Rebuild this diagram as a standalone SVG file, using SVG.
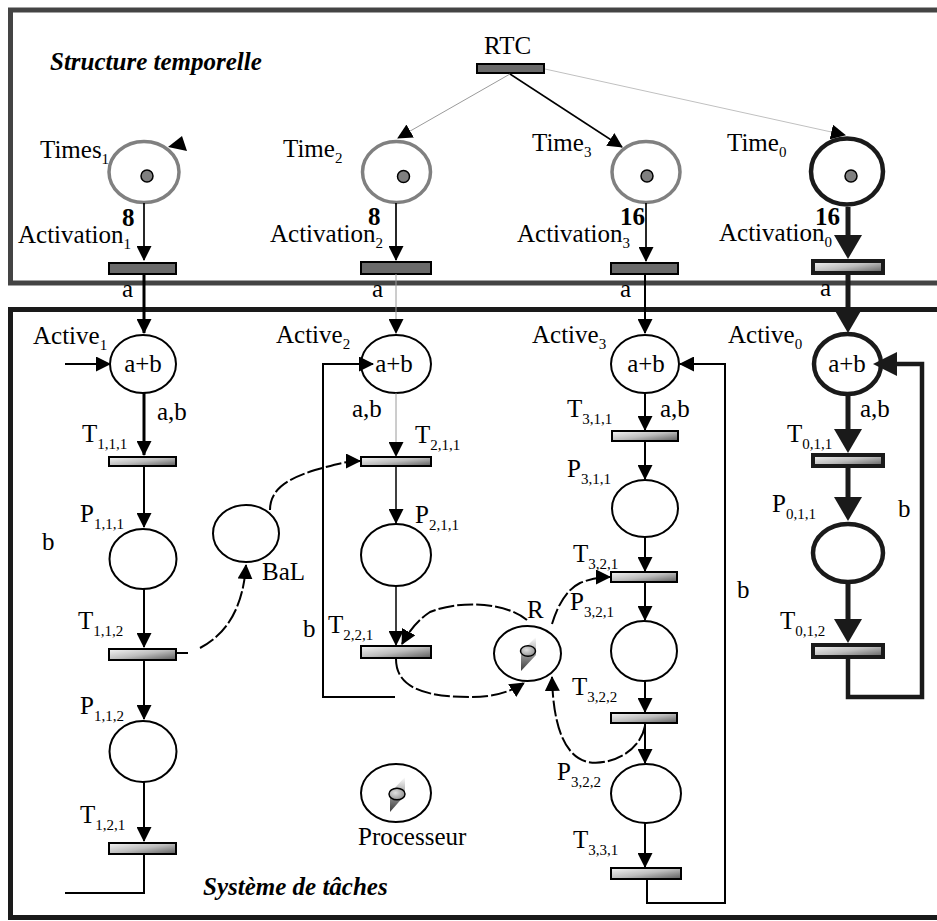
<svg xmlns="http://www.w3.org/2000/svg" width="937" height="921" viewBox="0 0 937 921" font-family="'Liberation Serif', 'DejaVu Serif', serif">
<style>
text{font-family:'Liberation Serif','DejaVu Serif',serif}
.lbl{font-size:25px;fill:#000}
.sub{font-size:15px}
.b{font-weight:bold}
.title{font-weight:bold;font-style:italic}
.ptop{fill:#fff;stroke:#808080;stroke-width:3.5}
.pl{fill:#fff;stroke:#000;stroke-width:2}
.plk{fill:#fff;stroke:#1a1a1a;stroke-width:4.5}
.tr{fill:url(#g);stroke:#000;stroke-width:2}
.trd{fill:#6a6a6a;stroke:#000;stroke-width:2}
.trk{fill:url(#g);stroke:#1a1a1a;stroke-width:4}
.tok{fill:#808080;stroke:#000;stroke-width:1.5}
.a{fill:none;stroke:#000;stroke-width:2;marker-end:url(#ar)}
.a3{fill:none;stroke:#000;stroke-width:3;marker-end:url(#ar)}
.ag{fill:none;stroke:#9a9a9a;stroke-width:1;marker-end:url(#ar)}
.ak{fill:none;stroke:#1a1a1a;stroke-width:5;marker-end:url(#arB)}
.d{fill:none;stroke:#000;stroke-width:2;stroke-dasharray:16 3;marker-end:url(#ar)}
.ln{fill:none;stroke:#000;stroke-width:2}
</style>
<defs>
<linearGradient id="g" x1="0" y1="0" x2="1" y2="1">
<stop offset="0" stop-color="#f6f6f6"/>
<stop offset="0.5" stop-color="#bdbdbd"/>
<stop offset="1" stop-color="#5a5a5a"/>
</linearGradient>
<linearGradient id="w" x1="0" y1="0" x2="0" y2="1">
<stop offset="0" stop-color="#ffffff"/>
<stop offset="1" stop-color="#3a3a3a"/>
</linearGradient>
<radialGradient id="tk" cx="0.4" cy="0.4" r="0.7">
<stop offset="0" stop-color="#e0e0e0"/>
<stop offset="1" stop-color="#8a8a8a"/>
</radialGradient>
<marker id="ar" markerUnits="userSpaceOnUse" markerWidth="15" markerHeight="15" viewBox="0 0 15 15" refX="14" refY="7.5" orient="auto">
<path d="M0,0 L15,7.5 L0,15 z" fill="#000"/>
</marker>
<marker id="arB" markerUnits="userSpaceOnUse" markerWidth="24" markerHeight="28" viewBox="0 0 24 28" refX="2" refY="14" orient="auto">
<path d="M0,0 L24,14 L0,28 z" fill="#1a1a1a"/>
</marker>
</defs>
<rect width="937" height="921" fill="#fff"/>

<g id="frames">
<rect x="10.5" y="10" width="940" height="273" fill="none" stroke="#444" stroke-width="5"/>
<rect x="10.5" y="309.5" width="940" height="608" fill="none" stroke="#1a1a1a" stroke-width="5"/>
<text class="lbl title" x="50" y="70">Structure temporelle</text>
<text class="lbl title" x="203" y="895">Système de tâches</text>
</g>

<g id="RTC">
<rect class="trd" x="477" y="64" width="67" height="9" fill="#555"/>
<text class="lbl" x="484" y="54">RTC</text>
</g>

<g id="Times1">
<ellipse class="ptop" cx="144" cy="172" rx="35" ry="30.5"/>
<circle class="tok" cx="147" cy="176" r="6"/>
<text class="lbl" x="40" y="158">Times<tspan class="sub" dy="6">1</tspan></text>
</g>
<g id="Time2">
<ellipse class="ptop" cx="396.5" cy="172" rx="34" ry="30.5"/>
<circle class="tok" cx="403.5" cy="176.5" r="6"/>
<text class="lbl" x="283" y="157">Time<tspan class="sub" dy="6">2</tspan></text>
</g>
<g id="Time3">
<ellipse class="ptop" cx="646" cy="172" rx="34" ry="30.5"/>
<circle class="tok" cx="647" cy="176" r="6"/>
<text class="lbl" x="532" y="151">Time<tspan class="sub" dy="6">3</tspan></text>
</g>
<g id="Time0">
<ellipse class="plk" cx="847" cy="171.5" rx="36" ry="33"/>
<circle class="tok" cx="851" cy="176" r="6"/>
<text class="lbl" x="727" y="151">Time<tspan class="sub" dy="6">0</tspan></text>
</g>

<g id="Activation1">
<rect class="trd" x="109" y="263" width="67" height="11"/>
<text class="lbl" x="18" y="243">Activation<tspan class="sub" dy="6">1</tspan></text>
</g>
<g id="Activation2">
<rect class="trd" x="361" y="262" width="70" height="12"/>
<text class="lbl" x="270" y="242">Activation<tspan class="sub" dy="6">2</tspan></text>
</g>
<g id="Activation3">
<rect class="trd" x="611" y="263" width="67" height="11"/>
<text class="lbl" x="517" y="242">Activation<tspan class="sub" dy="6">3</tspan></text>
</g>
<g id="Activation0">
<rect class="trk" x="813" y="261" width="70" height="12"/>
<text class="lbl" x="719" y="241">Activation<tspan class="sub" dy="6">0</tspan></text>
</g>

<g id="Active1">
<ellipse class="pl" cx="143" cy="364" rx="33" ry="29"/>
<text class="lbl" x="143" y="372" text-anchor="middle">a+b</text>
<text class="lbl" x="33" y="344">Active<tspan class="sub" dy="6">1</tspan></text>
</g>
<g id="Active2">
<ellipse class="pl" cx="396" cy="364" rx="35" ry="29"/>
<text class="lbl" x="394" y="372" text-anchor="middle">a+b</text>
<text class="lbl" x="276" y="343">Active<tspan class="sub" dy="6">2</tspan></text>
</g>
<g id="Active3">
<ellipse class="pl" cx="645" cy="364" rx="34" ry="29"/>
<text class="lbl" x="646" y="372" text-anchor="middle">a+b</text>
<text class="lbl" x="532" y="343">Active<tspan class="sub" dy="6">3</tspan></text>
</g>
<g id="Active0">
<ellipse class="plk" cx="847.5" cy="364" rx="33.5" ry="30"/>
<text class="lbl" x="847" y="372" text-anchor="middle">a+b</text>
<text class="lbl" x="728" y="343">Active<tspan class="sub" dy="6">0</tspan></text>
</g>

<g id="T111"><rect class="tr" x="109" y="457" width="67" height="9"/><text class="lbl" x="82" y="442">T<tspan class="sub" dy="7">1,1,1</tspan></text></g>
<g id="P111"><ellipse class="pl" cx="143" cy="559" rx="33.5" ry="30"/><text class="lbl" x="80" y="522">P<tspan class="sub" dy="7">1,1,1</tspan></text></g>
<g id="T112"><rect class="tr" x="109" y="649" width="67" height="11"/><text class="lbl" x="78" y="629">T<tspan class="sub" dy="7">1,1,2</tspan></text></g>
<g id="P112"><ellipse class="pl" cx="143" cy="751.5" rx="33.5" ry="30.5"/><text class="lbl" x="80" y="714">P<tspan class="sub" dy="7">1,1,2</tspan></text></g>
<g id="T121"><rect class="tr" x="109" y="843" width="67" height="11"/><text class="lbl" x="80" y="823">T<tspan class="sub" dy="7">1,2,1</tspan></text></g>
<g id="BaL"><ellipse class="pl" cx="246" cy="533.5" rx="33" ry="28.5"/><text class="lbl" x="262" y="580">BaL</text></g>

<g id="T211"><rect class="tr" x="361" y="457" width="70" height="9"/><text class="lbl" x="415" y="443">T<tspan class="sub" dy="7">2,1,1</tspan></text></g>
<g id="P211"><ellipse class="pl" cx="396" cy="555" rx="35" ry="31"/><text class="lbl" x="415" y="523">P<tspan class="sub" dy="7">2,1,1</tspan></text></g>
<g id="T221"><rect class="tr" x="361" y="646" width="70" height="12"/><text class="lbl" x="328" y="633">T<tspan class="sub" dy="7">2,2,1</tspan></text></g>
<g id="R">
<ellipse class="pl" cx="527.5" cy="653.5" rx="33.5" ry="27.5"/>
<path d="M536,637 L536,655 L521,671 L521,652 Z" fill="url(#w)"/>
<ellipse cx="528" cy="651" rx="7.5" ry="5.3" fill="url(#tk)" stroke="#000" stroke-width="1.5"/>
<text class="lbl" x="527" y="618">R</text>
</g>
<g id="Processeur">
<ellipse class="pl" cx="396" cy="793" rx="35" ry="29"/>
<path d="M405,777 L405,795 L390,812 L390,793 Z" fill="url(#w)"/>
<ellipse cx="397" cy="794" rx="8" ry="5.8" fill="url(#tk)" stroke="#000" stroke-width="1.5"/>
<text class="lbl" x="358" y="845">Processeur</text>
</g>

<g id="T311"><rect class="tr" x="612" y="431" width="66" height="10"/><text class="lbl" x="567" y="417">T<tspan class="sub" dy="7">3,1,1</tspan></text></g>
<g id="P311"><ellipse class="pl" cx="645" cy="508.5" rx="33" ry="28.5"/><text class="lbl" x="567" y="477">P<tspan class="sub" dy="7">3,1,1</tspan></text></g>
<g id="T321"><rect class="tr" x="611" y="572" width="66" height="10"/><text class="lbl" x="573" y="562">T<tspan class="sub" dy="7">3,2,1</tspan></text></g>
<g id="P321"><ellipse class="pl" cx="644" cy="651" rx="33" ry="30"/><text class="lbl" x="570" y="610">P<tspan class="sub" dy="7">3,2,1</tspan></text></g>
<g id="T322"><rect class="tr" x="611" y="713" width="66" height="10"/><text class="lbl" x="572" y="695">T<tspan class="sub" dy="7">3,2,2</tspan></text></g>
<g id="P322"><ellipse class="pl" cx="646" cy="793.5" rx="35" ry="29.5"/><text class="lbl" x="557" y="780">P<tspan class="sub" dy="7">3,2,2</tspan></text></g>
<g id="T331"><rect class="tr" x="611" y="868" width="70" height="11"/><text class="lbl" x="573" y="848">T<tspan class="sub" dy="7">3,3,1</tspan></text></g>

<g id="T011"><rect class="trk" x="813" y="455" width="70" height="11"/><text class="lbl" x="787" y="442">T<tspan class="sub" dy="7">0,1,1</tspan></text></g>
<g id="P011"><ellipse class="plk" cx="848" cy="553" rx="35" ry="29"/><text class="lbl" x="772" y="512">P<tspan class="sub" dy="7">0,1,1</tspan></text></g>
<g id="T012"><rect class="trk" x="813" y="645" width="70" height="12"/><text class="lbl" x="780" y="629">T<tspan class="sub" dy="7">0,1,2</tspan></text></g>

<g id="connectors">
<path class="ag" d="M510,74 L398,138"/>
<path class="a" d="M510,74 L622,147" style="stroke-width:1.5"/>
<path class="ag" d="M545,69 L845,135" style="stroke:#c0c0c0"/>
<polygon points="182,136 187,151 168,147" fill="#000"/>
<path class="a" d="M144,203 V260" style="stroke-width:1.7"/>
<path class="a" d="M396,203 V260" style="stroke-width:1.7"/>
<path class="a" d="M646,203 V261" style="stroke-width:1.7"/>
<path class="ak" d="M848,207 V237"/>
<text class="lbl b" x="122" y="226">8</text>
<text class="lbl b" x="368" y="225">8</text>
<text class="lbl b" x="620" y="225">16</text>
<text class="lbl b" x="815" y="225">16</text>
<path class="a3" d="M144,274 V333"/>
<path class="ag" d="M396,274 V333"/>
<path class="a" d="M645,274 V333"/>
<path class="ak" d="M848,273 V311"/>
<text class="lbl" x="122" y="297">a</text>
<text class="lbl" x="372" y="297">a</text>
<text class="lbl" x="620" y="297">a</text>
<text class="lbl" x="820" y="296">a</text>
<path class="a" d="M65,364 H110"/>
<path class="a3" d="M144,393 V455"/>
<text class="lbl" x="157" y="420">a,b</text>
<path class="a" d="M144,466 V527"/>
<path class="a" d="M144,589 V647"/>
<path class="a" d="M144,660 V719"/>
<path class="a" d="M144,782 V841"/>
<path class="ln" d="M144,854 V893 H65"/>
<text class="lbl" x="42" y="550">b</text>
<path class="ln" d="M176,653 H188"/>
<path class="d" d="M200,648 C225,635 243,610 246,565"/>
<path class="d" d="M270,510 C270,488 290,478 315,470 C330,466 345,461 360,461"/>
<path class="a" d="M395,697 H323 V364 H373"/>
<text class="lbl" x="303" y="637">b</text>
<path class="ag" d="M396,393 V456"/>
<text class="lbl" x="352" y="417">a,b</text>
<path class="a" d="M396,466 V523" style="stroke-width:1.5"/>
<path class="a" d="M396,586 V645" style="stroke-width:1.5"/>
<path class="d" d="M396,659 C396,690 430,697 470,697 C495,697 510,692 524,683"/>
<path class="d" d="M527,620 C505,602 460,600 430,612 C418,620 409,631 402,644"/>
<path class="a" d="M647,879 V903 H725 V364 H680"/>
<text class="lbl" x="737" y="598">b</text>
<path class="a" d="M645,393 V430"/>
<text class="lbl" x="660" y="417">a,b</text>
<path class="a" d="M645,441 V479"/>
<path class="a" d="M645,537 V571"/>
<path class="a" d="M645,582 V620"/>
<path class="a" d="M645,681 V712"/>
<path class="a" d="M645,723 V763"/>
<path class="a" d="M645,823 V867"/>
<path class="d" d="M552,624 C558,605 566,590 580,583 C590,579 600,577 610,577"/>
<path class="d" d="M645,726 C640,752 610,766 588,762 C562,756 553,720 552,677"/>
<path class="ak" d="M848,395 V431"/>
<text class="lbl" x="860" y="417">a,b</text>
<path class="ak" d="M848,466 V499"/>
<path class="ak" d="M848,582 V621"/>
<path d="M848,657 V697 H922 V364 H895" fill="none" stroke="#1a1a1a" stroke-width="4.5"/>
<polygon points="873,364 897,352 897,376" fill="#1a1a1a"/>
<text class="lbl" x="898" y="517">b</text>
</g>
</svg>
